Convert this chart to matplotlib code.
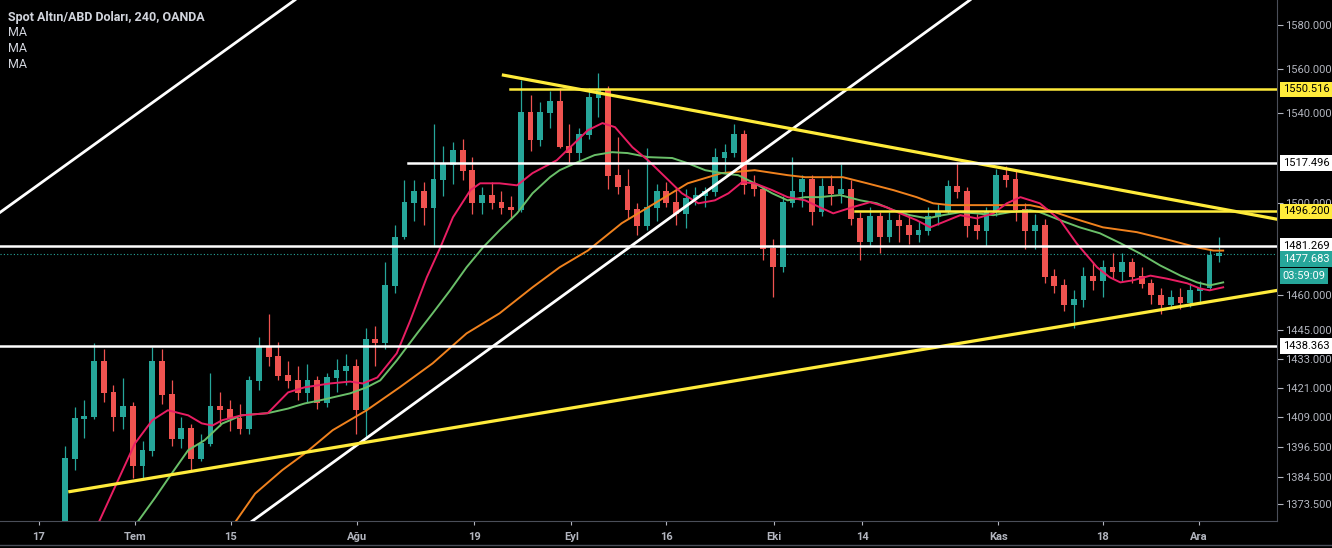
import numpy as np
import matplotlib
matplotlib.use("Agg")
import matplotlib.pyplot as plt
import matplotlib.transforms as mtransforms
from matplotlib.ticker import FixedLocator, NullLocator

# daily candles, index = trading day (0 = ~20 Jun 2019)
opens = [1358, 1392, 1408, 1409, 1432, 1419, 1409, 1413, 1389, 1395,
         1432, 1418, 1400, 1404, 1392, 1398, 1413, 1412, 1408, 1404,
         1424, 1438, 1434, 1426, 1424, 1419, 1424, 1415, 1425, 1428,
         1430, 1412, 1441, 1440, 1464, 1485, 1500, 1505, 1498, 1510,
         1517, 1523, 1514, 1500, 1503, 1500, 1498, 1497, 1540, 1528,
         1540, 1545, 1525, 1522, 1530, 1547, 1550, 1512, 1507, 1497,
         1490, 1498, 1505, 1500, 1495, 1502, 1503, 1505, 1520, 1522,
         1530, 1508, 1506, 1480, 1472, 1500, 1505, 1510, 1496, 1507,
         1504, 1506, 1493, 1483, 1494, 1485, 1492, 1490, 1486, 1488,
         1494, 1496, 1507, 1505, 1490, 1488, 1496, 1512, 1510, 1497,
         1488, 1490, 1468, 1464, 1456, 1458, 1468, 1466, 1472, 1470,
         1474, 1468, 1465, 1460, 1456, 1459, 1457, 1462, 1463, 1477]
highs = [1397, 1413, 1416, 1439.5, 1437, 1422, 1425, 1415, 1399, 1438,
         1437, 1424, 1409, 1406, 1402, 1427, 1419, 1416, 1414, 1426,
         1442, 1452, 1440, 1432, 1430, 1431, 1426, 1427, 1433, 1435,
         1433, 1446, 1447, 1474, 1490, 1510, 1510, 1509, 1535, 1525,
         1527, 1528, 1520, 1507, 1509, 1505, 1503, 1555, 1548, 1545,
         1550, 1551, 1535, 1533, 1551, 1558, 1552, 1529, 1515, 1500,
         1524, 1508, 1509, 1507, 1506, 1507, 1507, 1524, 1526, 1535,
         1532, 1512, 1507, 1484, 1503, 1520, 1512, 1512, 1511, 1512,
         1517, 1510, 1496, 1498, 1496, 1496, 1495, 1494, 1492, 1498,
         1500, 1510, 1518, 1507, 1495, 1498, 1515, 1516, 1514, 1500,
         1495, 1493, 1471, 1467, 1462, 1472, 1474, 1475, 1478, 1478,
         1476, 1472, 1467, 1463, 1462, 1463, 1465, 1466, 1480, 1485]
lows = [1356, 1387, 1400, 1408, 1415, 1403, 1404, 1384, 1384, 1393,
        1414, 1397, 1396, 1387, 1391, 1397, 1405, 1403, 1402, 1402,
        1420, 1430, 1424, 1421, 1416, 1415, 1412, 1413, 1419, 1422,
        1402, 1400, 1430, 1437, 1461, 1484, 1492, 1490, 1481, 1503,
        1508, 1510, 1495, 1495, 1497, 1495, 1493, 1496, 1523, 1525,
        1533, 1524, 1517, 1518, 1528, 1538, 1506, 1504, 1493, 1486,
        1488, 1492, 1498, 1490, 1489, 1499, 1498, 1503, 1513, 1520,
        1504, 1503, 1475, 1459, 1470, 1498, 1498, 1490, 1494, 1499,
        1500, 1490, 1475, 1481, 1478, 1483, 1483, 1482, 1483, 1486,
        1490, 1495, 1502, 1485, 1484, 1481, 1494, 1507, 1492, 1480,
        1480, 1465, 1461, 1453, 1446, 1455, 1462, 1459, 1467, 1466,
        1465, 1463, 1456, 1452, 1454, 1454, 1455, 1456, 1462, 1474]
closes = [1392, 1408, 1409, 1432, 1419, 1409, 1413, 1389, 1395, 1432,
          1418, 1400, 1404, 1392, 1398, 1413, 1412, 1408, 1404, 1424,
          1438, 1434, 1426, 1424, 1419, 1424, 1415, 1425, 1428, 1430,
          1412, 1441, 1440, 1464, 1485, 1500, 1505, 1498, 1510, 1517,
          1523, 1514, 1500, 1503, 1500, 1498, 1497, 1540, 1528, 1540,
          1545, 1525, 1522, 1530, 1547, 1550, 1512, 1507, 1497, 1490,
          1498, 1505, 1500, 1495, 1502, 1503, 1505, 1520, 1522, 1530,
          1508, 1506, 1480, 1472, 1500, 1505, 1510, 1496, 1507, 1504,
          1506, 1493, 1483, 1494, 1485, 1492, 1490, 1486, 1488, 1494,
          1496, 1507, 1505, 1490, 1488, 1496, 1512, 1510, 1497, 1488,
          1490, 1468, 1464, 1456, 1458, 1468, 1466, 1472, 1470, 1474,
          1468, 1465, 1460, 1456, 1459, 1457, 1462, 1463, 1477, 1477.683]

# moving averages (day, price)
ma_red_day = [3.0, 7.2, 9.0, 10.6, 12.7, 14.1, 15.2, 16.2, 18.2, 20.9, 23.0, 24.7,
              27.3, 29.4, 30.7, 32.2, 34.2, 35.6, 37.3, 38.7, 40.0, 41.8, 42.8,
              44.8, 46.6, 48.2, 50.7, 53.9, 55.4, 56.7, 58.5, 60.1, 61.9, 63.6,
              65.3, 67.0, 68.4, 69.8, 71.1, 72.9, 74.5, 76.3, 77.8, 79.2, 81.2,
              83.0, 84.7, 86.1, 87.8, 89.2, 90.5, 92.3, 94.0, 95.7, 97.1, 98.5,
              100.5, 102.6, 104.3, 106.4, 107.7, 108.8, 110.1, 111.9, 113.6,
              115.7, 117.0, 118.0, 119.4]
ma_red = [1362, 1397.9, 1407.5, 1411.6, 1409.5, 1406.2, 1405.3, 1407.5, 1409.5,
          1410.4, 1419.0, 1421.1, 1422.7, 1423.5, 1422.7, 1425.2, 1435.3, 1449.2,
          1467.6, 1480.5, 1493.6, 1505.5, 1508.5, 1508.5, 1507.6, 1513.0, 1518.7,
          1532.1, 1535.3, 1533.5, 1524.5, 1518.7, 1511.2, 1504.1, 1499.7, 1501.0,
          1504.1, 1509.0, 1508.5, 1505.5, 1502.4, 1501.0, 1498.0, 1495.3, 1498.0,
          1500.2, 1498.0, 1495.3, 1492.3, 1489.2, 1491.4, 1494.5, 1493.1, 1495.3,
          1499.7, 1502.4, 1499.7, 1492.3, 1482.2, 1471.9, 1467.6, 1465.4, 1466.3,
          1468.3, 1467.0, 1465.0, 1462.8, 1462.0, 1463.3]
ma_green_day = [6.7, 9.3, 11.0, 12.7, 14.4, 16.2, 18.2, 20.9, 23.0, 24.7, 26.3,
                29.4, 31.1, 32.5, 34.2, 36.3, 37.9, 39.7, 41.4, 43.1, 44.8, 46.6,
                48.2, 50.0, 51.0, 52.6, 54.6, 56.4, 58.0, 60.1, 62.6, 64.2, 66.0,
                67.7, 69.4, 71.1, 72.9, 74.5, 76.3, 77.8, 79.9, 82.0, 83.7, 85.4,
                87.1, 88.9, 90.5, 92.3, 94.0, 95.7, 97.4, 99.5, 100.5, 102.6,
                104.6, 106.7, 108.8, 110.8, 112.9, 115.0, 116.7, 118.0, 119.4]
ma_green = [1362, 1376.0, 1385.7, 1395.2, 1399.3, 1406.1, 1409.5, 1410.4, 1412.3,
            1414.4, 1415.7, 1418.6, 1421.1, 1424.0, 1432.3, 1443.7, 1452.2, 1462.0,
            1471.9, 1480.5, 1487.9, 1495.3, 1504.1, 1511.2, 1514.3, 1517.4, 1521.0,
            1522.3, 1521.9, 1520.1, 1519.7, 1517.4, 1514.3, 1513.0, 1512.1, 1508.5,
            1504.1, 1501.0, 1502.4, 1502.4, 1503.3, 1501.0, 1499.7, 1496.7, 1494.5,
            1493.1, 1494.5, 1495.8, 1495.3, 1494.5, 1495.8, 1496.7, 1495.8, 1492.3,
            1489.2, 1486.6, 1482.3, 1477.9, 1472.7, 1468.3, 1465.4, 1464.1, 1465.4]
ma_orange_day = [16.8, 19.6, 22.4, 24.7, 27.6, 31.1, 34.5, 37.9, 41.4, 44.8, 48.2,
                 51.0, 53.9, 57.4, 60.8, 64.2, 67.7, 71.1, 74.5, 76.3, 80.2, 82.7,
                 85.4, 87.8, 89.5, 91.2, 94.6, 99.5, 100.5, 103.6, 107.0, 110.5,
                 113.9, 116.7, 118.4, 119.4]
ma_orange = [1362, 1377.6, 1387.1, 1393.8, 1403.4, 1411.6, 1421.1, 1431.1, 1443.7,
             1452.2, 1463.3, 1471.9, 1479.1, 1491.0, 1499.7, 1508.5, 1513.0, 1514.3,
             1512.1, 1511.2, 1511.2, 1508.5, 1505.5, 1502.4, 1499.7, 1498.9, 1498.9,
             1498.9, 1498.0, 1493.6, 1489.2, 1487.1, 1483.6, 1480.5, 1479.1, 1479.1]

# drawn trend lines: ((day, price), (day, price))
white_channel = [((-6.7, 1495.7), (23.7, 1591.6)), ((19.1, 1366.0), (93.3, 1591.6))]
yellow_support = ((0.5, 1378.4), (125.0, 1462.0))
yellow_resist = ((45.2, 1557.0), (125.0, 1492.7))
# horizontal levels: (price, start day, colour)
levels = [(1550.516, 45.9, "#ffeb3b"), (1496.200, 81.4, "#ffeb3b"),
          (1517.496, 35.4, "#ffffff"), (1481.269, -7, "#ffffff"),
          (1438.363, -7, "#ffffff")]
last_price = 1477.683
countdown = "03:59:09"

y_ticks = [1580, 1560, 1540, 1500, 1460, 1445, 1433, 1421, 1409,
           1396.5, 1384.5, 1373.5]
x_tick_pos = [-2.7, 7.2, 17.1, 30.1, 42.2, 52.2, 62.0, 73.1, 82.2, 96.2, 107.0, 116.9]
x_tick_lbl = ["17", "Tem", "15", "Ağu", "19", "Eyl", "16", "Eki", "14", "Kas", "18", "Ara"]

UP, DOWN = "#26a69a", "#ef5350"
TXT = "#b2b5be"
plt.rcParams["font.family"] = ["Roboto", "DejaVu Sans"]

fig = plt.figure(figsize=(13.32, 5.48), dpi=100, facecolor="black")
ax = fig.add_axes([0, 27 / 548, 1277 / 1332, 521 / 548])
ax.set_facecolor("black")
ax.set_yscale("log")
ax.set_xlim(-6.7, 124.95)
ax.set_ylim(1366.6, 1591.6)

days = np.arange(len(closes))
o, h, l, c = map(np.array, (opens, highs, lows, closes))
col = np.where(c >= o, UP, DOWN)
ax.vlines(days, l, h, colors=col, lw=0.9, zorder=2)
ax.bar(days, np.abs(c - o) + 0.4, bottom=np.minimum(o, c) - 0.2, width=0.6,
       color=col, zorder=3)

ax.plot(ma_orange_day, ma_orange, color="#f0821e", lw=1.4, zorder=4)
ax.plot(ma_green_day, ma_green, color="#6abf69", lw=1.4, zorder=4)
ax.plot(ma_red_day, ma_red, color="#e91e63", lw=1.4, zorder=4)

for (x0, y0), (x1, y1) in white_channel:
    ax.plot([x0, x1], [y0, y1], color="white", lw=2, zorder=5)
for (x0, y0), (x1, y1) in (yellow_support, yellow_resist):
    ax.plot([x0, x1], [y0, y1], color="#ffeb3b", lw=2.3, zorder=5)
for price, start, colour in levels:
    ax.plot([start, 125], [price, price], color=colour, lw=1.8, zorder=5)
ax.axhline(last_price, color=UP, lw=0.8, ls=(0, (1, 2)), zorder=1)

# axes styling
for s in ("top", "left"):
    ax.spines[s].set_visible(False)
ax.spines["right"].set_color("#4a4e59")
ax.spines["bottom"].set_color("#4a4e59")
ax.yaxis.tick_right()
ax.yaxis.set_major_locator(FixedLocator(y_ticks))
ax.yaxis.set_minor_locator(NullLocator())
ax.set_yticklabels([f"{t:.3f}" for t in y_ticks])
ax.tick_params(axis="y", colors=TXT, labelsize=8, length=4, width=0.8, pad=2)
ax.set_xticks(x_tick_pos)
ax.set_xticklabels(x_tick_lbl, fontweight="bold")
ax.tick_params(axis="x", colors=TXT, labelsize=8, length=3, width=0.8, pad=5)

# price labels on the scale; dy in pixels keeps the stacked tags apart
trans = mtransforms.blended_transform_factory(ax.transAxes, ax.transData)
tags = [(1550.516, 0, "1550.516", "#ffeb3b", "black"),
        (1517.496, 0, "1517.496", "white", "black"),
        (1496.200, 0, "1496.200", "#ffeb3b", "black"),
        (1481.269, 0, "1481.269", "white", "black"),
        (1438.363, 0, "1438.363", "white", "black"),
        (last_price, -5, f"{last_price:.3f}", UP, "white"),
        (last_price, -22, countdown, UP, "white")]
for price, dy, label, bg, fg in tags:
    ax.annotate(label, xy=(1.0, price), xycoords=trans,
                xytext=(4, dy * 0.72), textcoords="offset points", ha="left",
                va="center", fontsize=8, color=fg, annotation_clip=False, zorder=10,
                bbox=dict(boxstyle="square,pad=0.25", fc=bg, ec="none"))

fig.text(8 / 1332, 1 - 17 / 548, "Spot Altın/ABD Doları, 240, OANDA", color="#d1d4dc",
         fontsize=9, fontweight="bold", va="center")
for i in range(3):
    fig.text(8 / 1332, 1 - (32 + 16 * i) / 548, "MA", color="#d1d4dc", fontsize=9,
             va="center")
fig.add_artist(plt.Line2D([0, 1], [3 / 548, 3 / 548], color="#4a4e59", lw=1))

fig.savefig("out.png", dpi=100, facecolor="black")
